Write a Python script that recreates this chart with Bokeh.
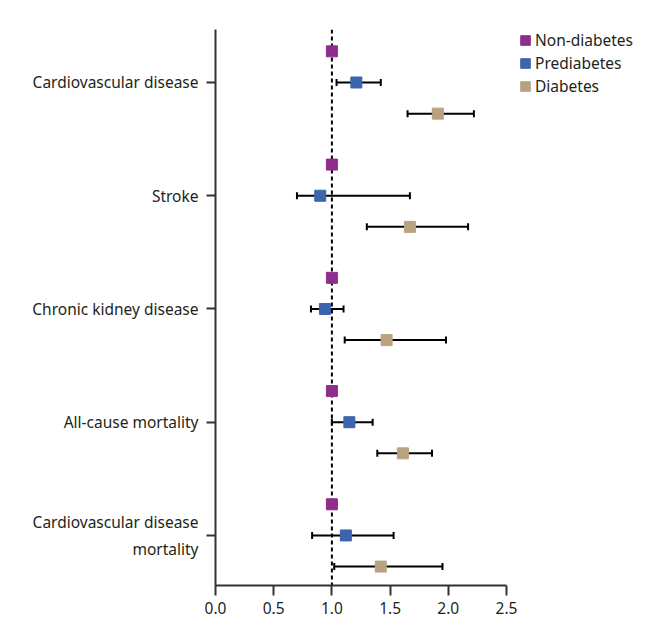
from bokeh.plotting import figure
from bokeh.models import ColumnDataSource, Whisker, TeeHead, Span, Legend, LegendItem, FixedTicker, Range1d
from bokeh.embed import file_html
from bokeh.resources import INLINE

categories = ["Cardiovascular disease", "Stroke", "Chronic kidney disease",
              "All-cause mortality", "Cardiovascular disease\nmortality"]
series = ["Non-diabetes", "Prediabetes", "Diabetes"]
colors = ["#8E2D8C", "#3B65AD", "#B9A27F"]

non_est = [1.00, 1.00, 1.00, 1.00, 1.00]
pre_est = [1.21, 0.90, 0.94, 1.15, 1.12]
pre_lo = [1.04, 0.70, 0.82, 1.00, 0.83]
pre_hi = [1.42, 1.67, 1.10, 1.35, 1.53]
dia_est = [1.91, 1.67, 1.47, 1.61, 1.42]
dia_lo = [1.65, 1.30, 1.11, 1.39, 1.02]
dia_hi = [2.22, 2.17, 1.98, 1.86, 1.95]

x_ticks = [0.0, 0.5, 1.0, 1.5, 2.0, 2.5]

n = len(categories)
base = [n - i for i in range(n)]
off = 0.275

FONT = "Noto Sans"
TEXT_COLOR = "#231F20"
FS = "15.5px"

p = figure(frame_width=291, frame_height=556, output_backend="svg", toolbar_location=None,
           x_range=Range1d(0, 2.5), y_range=Range1d(0.558, 5.468),
           min_border_left=215, min_border_top=29, min_border_bottom=35,
           min_border_right=134)
p.outline_line_color = None
p.xgrid.visible = False
p.ygrid.visible = False
p.background_fill_color = "white"

# reference line
p.add_layout(Span(location=1.0, dimension="height", line_color="black",
                  line_width=2, line_dash="4 3", level="underlay"))

pre_src = ColumnDataSource(dict(y=[b for b in base], x=pre_est, lo=pre_lo, hi=pre_hi))
dia_src = ColumnDataSource(dict(y=[b - off for b in base], x=dia_est, lo=dia_lo, hi=dia_hi))
non_src = ColumnDataSource(dict(y=[b + off for b in base], x=non_est))

for src in (pre_src, dia_src):
    w = Whisker(source=src, base="y", lower="lo", upper="hi", dimension="width",
                line_color="black", line_width=2, level="underlay",
                lower_head=TeeHead(size=7, line_color="black", line_width=2),
                upper_head=TeeHead(size=7, line_color="black", line_width=2))
    p.add_layout(w)

sources = [non_src, pre_src, dia_src]
for src, c in zip(sources, colors):
    p.scatter("x", "y", source=src, marker="square", size=11,
              fill_color=c, line_color=c)

# hidden renderers that provide square legend swatches
swatches = [p.quad(left="x", right="x", top="y", bottom="y", source=src,
                   fill_color=c, line_color=c, visible=False)
            for src, c in zip(sources, colors)]

legend = Legend(items=[LegendItem(label=s, renderers=[r]) for s, r in zip(series, swatches)],
                location=(13, 488), margin=0, padding=0, spacing=1,
                glyph_width=12, glyph_height=12, label_standoff=4,
                label_text_font=FONT, label_text_font_size=FS,
                label_text_color=TEXT_COLOR, border_line_color=None,
                background_fill_alpha=0, inactive_fill_alpha=0)
p.add_layout(legend, "right")

# axes
p.xaxis.ticker = FixedTicker(ticks=x_ticks)
p.xaxis.major_label_overrides = {t: f"{t:.1f}" for t in x_ticks}
p.xaxis.minor_tick_line_color = None
p.xaxis.major_tick_out = 10
p.xaxis.major_tick_in = 0
p.xaxis.major_label_standoff = 6

p.yaxis.ticker = FixedTicker(ticks=base)
p.yaxis.major_label_overrides = {b: c for b, c in zip(base, categories)}
p.yaxis.minor_tick_line_color = None
p.yaxis.major_tick_out = 9
p.yaxis.major_tick_in = 0
p.yaxis.major_label_standoff = 8

for ax in (p.xaxis, p.yaxis):
    ax.axis_line_color = "#333333"
    ax.axis_line_width = 2
    ax.major_tick_line_color = "#333333"
    ax.major_tick_line_width = 2
    ax.major_label_text_font = FONT
    ax.major_label_text_font_size = FS
    ax.major_label_text_color = TEXT_COLOR

open("out.html", "w").write(file_html(p, INLINE))
